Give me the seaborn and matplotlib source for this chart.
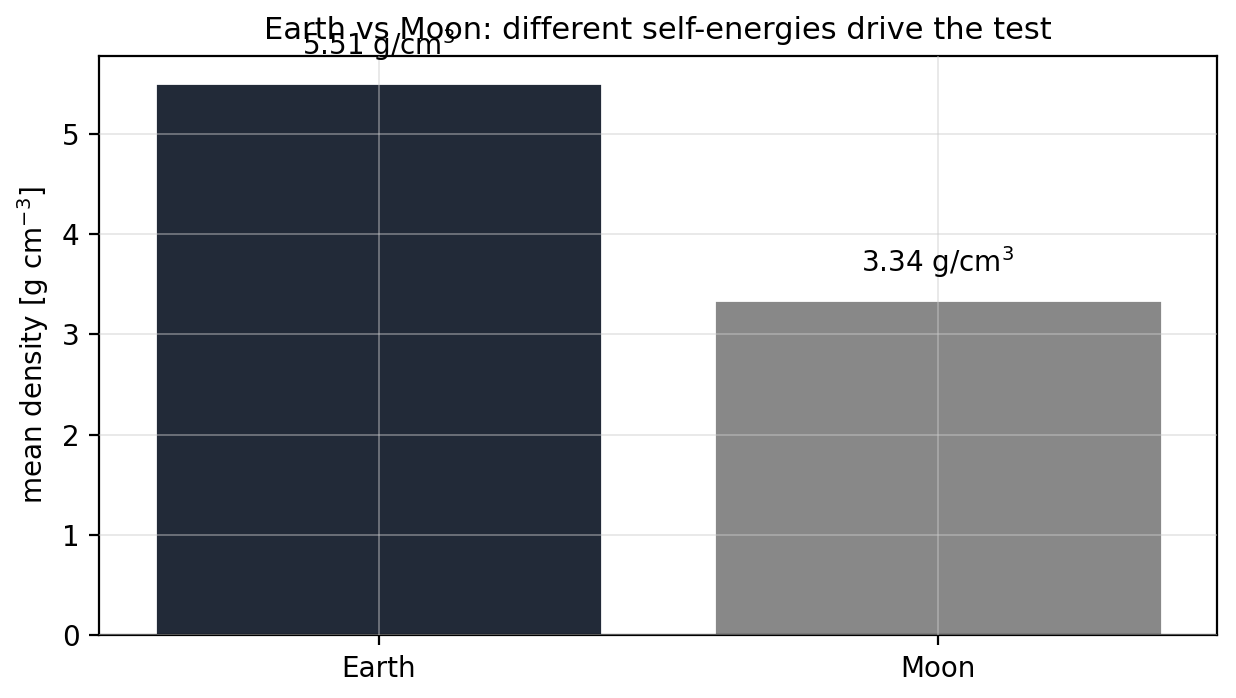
import matplotlib
matplotlib.use("Agg")
import matplotlib.pyplot as plt
import seaborn as sns
import pandas as pd

bodies = ["Earth", "Moon"]
density = [5.51, 3.34]
colors = ["#222a38", "#888888"]

sns.set_style("white")
plt.rcParams.update({"text.color": "black", "axes.labelcolor": "black",
                     "xtick.color": "black", "ytick.color": "black"})
fig, ax = plt.subplots(figsize=(6.18, 3.49), dpi=200)
df = pd.DataFrame({"body": bodies, "density": density})
sns.barplot(data=df, x="body", y="density", hue="body", palette=colors, legend=False, ax=ax, width=0.8, saturation=1)
ax.set_axisbelow(False)
ax.grid(True, color="#cccccc", alpha=0.5, linewidth=0.6)
for i, v in enumerate(density):
    ax.text(i, v + 0.2, f"{v:.2f} g/cm$^3$", ha="center", va="bottom", fontsize=10)
ax.set_ylim(0, 5.78)
ax.set_xlabel("")
ax.set_ylabel("mean density [g cm$^{-3}$]", fontsize=10)
ax.set_title("Earth vs Moon: different self-energies drive the test", fontsize=11)
ax.tick_params(labelsize=10, left=True, bottom=True, length=3.5)
for s in ax.spines.values():
    s.set_color("black"); s.set_linewidth(0.8)
fig.subplots_adjust(left=0.08, right=0.985, top=0.92, bottom=0.09)
fig.savefig("out.png")
